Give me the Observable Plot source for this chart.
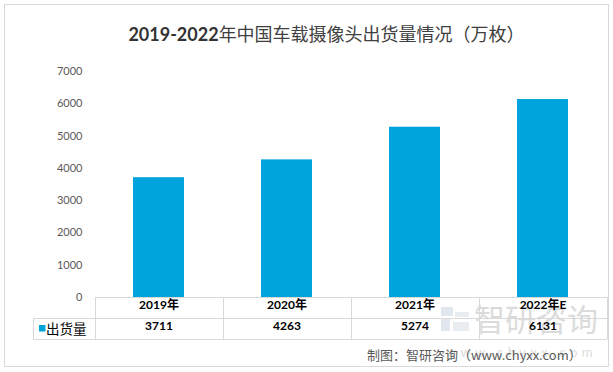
<!DOCTYPE html>
<html>
<head>
<meta charset="utf-8">
<script src="https://cdn.jsdelivr.net/npm/d3@7"></script>
<script src="https://cdn.jsdelivr.net/npm/@observablehq/plot@0.6"></script>
<style>
  html, body { margin: 0; padding: 0; background: #fff; }
  #wrap { position: relative; width: 613px; height: 372px; overflow: hidden; font-family: Lato, "Noto Sans CJK SC", sans-serif; }
  #frame { position: absolute; left: 4px; top: 4px; width: 603px; height: 361px; border: 1px solid #d9d9d9; box-sizing: content-box; pointer-events: none; }
  #title { position: relative; height: 50px; line-height: 18px; padding-top: 24px; box-sizing: border-box; text-align: center; font-size: 18px; color: #404040; padding-left: 40px; }
  #title b { font-family: Lato, sans-serif; font-weight: 700; color: #333; }
  #title span { font-family: "Noto Sans CJK SC", sans-serif; font-weight: 400; }
  #chart svg { display: block; }
</style>
</head>
<body>
<div id="wrap">
  <div id="frame"></div>
  <div id="title"><b>2019-2022</b><span>年中国车载摄像头出货量情况（万枚）</span></div>
  <div id="chart"></div>
</div>
<script>
const years = ["2019年", "2020年", "2021年", "2022年E"];
const shipments = [3711, 4263, 5274, 6131];
const yTicks = [0, 1000, 2000, 3000, 4000, 5000, 6000, 7000];
const seriesName = "出货量";
const captionText = "制图：智研咨询（www.chyxx.com）";

const data = years.map((y, i) => ({year: y, value: shipments[i]}));
const blue = "#00a4dc";
const lineColor = "#d9d9d9";

const chart = Plot.plot({
  width: 613,
  height: 322,
  marginLeft: 93,
  marginRight: 5,
  marginTop: 21,
  marginBottom: 75,
  style: {fontFamily: "Lato, 'Noto Sans CJK SC', sans-serif", fontSize: "11px", color: "#595959", background: "transparent", overflow: "visible"},
  x: {domain: years, paddingInner: 0.6, paddingOuter: 0.3, axis: null},
  y: {domain: [0, 7000], ticks: yTicks, tickSize: 0, tickPadding: 11, tickFormat: "d", label: null},
  marks: [
    Plot.barY(data, {x: "year", y: "value", fill: blue}),
    Plot.text(data, {x: "year", frameAnchor: "bottom", dy: 11, text: "year", fontWeight: "bold", fontSize: 12, fill: "#000"}),
    Plot.text(data, {x: "year", frameAnchor: "bottom", dy: 32, text: d => String(d.value), fontWeight: "bold", fontSize: 12, fill: "#000"})
  ]
});
document.getElementById("chart").appendChild(chart);

// table grid using the plot's x scale
const xs = chart.scale("x");
const step = xs.step;
const centers = years.map(y => xs.apply(y) + xs.bandwidth / 2);
const bounds = [centers[0] - step / 2, ...centers.map(c => c + step / 2)];
const svg = d3.select(chart);
const yBase = 247, rowH = 21;
const left = 33, right = bounds[bounds.length - 1];

// watermark (behind)
const wm = svg.insert("g", ":first-child").attr("opacity", 0.3).attr("text-anchor", "start");
wm.append("rect").attr("x", 441).attr("y", 257).attr("width", 12).attr("height", 9).attr("fill", "#9fb3c8");
wm.append("rect").attr("x", 441).attr("y", 269).attr("width", 9).attr("height", 12).attr("fill", "#9fb3c8");
wm.append("rect").attr("x", 455).attr("y", 262).attr("width", 14).attr("height", 5).attr("fill", "#b8c4d0");
wm.append("rect").attr("x", 453).attr("y", 272).attr("width", 16).attr("height", 9).attr("fill", "#b8c4d0");
wm.append("text").attr("x", 474).attr("y", 270).attr("dy", "0.35em").attr("font-family", "'Noto Sans CJK SC', sans-serif")
  .attr("font-size", 31).attr("fill", "#8c8c8c").text("智研咨询");
wm.append("text").attr("x", 446).attr("y", 302).attr("dy", "0.35em").attr("font-family", "Lato, sans-serif")
  .attr("font-size", 13).attr("fill", "#8c8c8c").attr("letter-spacing", 4.4).text("www.chyxx.com");

const g = svg.append("g").attr("stroke", lineColor).attr("stroke-width", 1).attr("shape-rendering", "crispEdges");
g.append("line").attr("x1", bounds[0]).attr("x2", right).attr("y1", yBase + 0.5).attr("y2", yBase + 0.5);
g.append("line").attr("x1", left).attr("x2", right).attr("y1", yBase + rowH + 0.5).attr("y2", yBase + rowH + 0.5);
g.append("line").attr("x1", left).attr("x2", right).attr("y1", yBase + 2 * rowH + 0.5).attr("y2", yBase + 2 * rowH + 0.5);
g.append("line").attr("x1", left + 0.5).attr("x2", left + 0.5).attr("y1", yBase + rowH).attr("y2", yBase + 2 * rowH);
bounds.forEach(b => {
  g.append("line").attr("x1", Math.round(b) + 0.5).attr("x2", Math.round(b) + 0.5).attr("y1", yBase).attr("y2", yBase + 2 * rowH);
});

// legend key in table
svg.append("rect").attr("x", 39).attr("y", yBase + rowH + 7).attr("width", 6.5).attr("height", 6.5).attr("fill", blue);
svg.append("text").attr("x", 46).attr("y", yBase + rowH + 11).attr("dy", "0.35em").attr("text-anchor", "start")
  .attr("font-family", "'Noto Sans CJK SC', sans-serif").attr("font-size", 13.5).attr("fill", "#000").text(seriesName);

// caption
svg.append("text").attr("x", 367).attr("y", 305).attr("dy", "0.35em").attr("text-anchor", "start")
  .attr("font-family", "'Noto Sans CJK SC', Lato, sans-serif").attr("font-size", 13).attr("fill", "#595959").text(captionText);
</script>
</body>
</html>
